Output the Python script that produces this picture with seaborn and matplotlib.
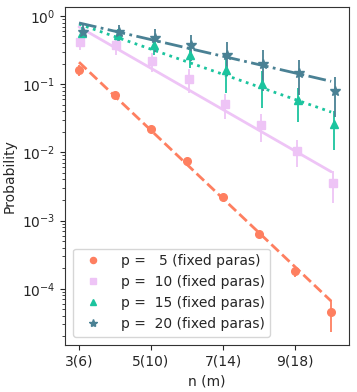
import numpy as np
import pandas as pd
import matplotlib
matplotlib.use('Agg')
import matplotlib.pyplot as plt
from matplotlib.lines import Line2D
import seaborn as sns

# data
n_vals = [3, 4, 5, 6, 7, 8, 9, 10]
p_vals = [5, 10, 15, 20]

prob_p5 = [0.16, 0.069, 0.022, 0.0074, 0.0022, 6.3e-4, 1.8e-4, 4.6e-5]
err_p5 = [0.03, 0.006, 0.002, 0.0006, 0.0002, 6e-5, 3e-5, 2.3e-5]
prob_p10 = [0.42, 0.37, 0.22, 0.12, 0.051, 0.025, 0.0105, 0.0036]
err_p10 = [0.1, 0.1, 0.07, 0.045, 0.02, 0.011, 0.0045, 0.0018]
prob_p15 = [0.56, 0.52, 0.37, 0.27, 0.16, 0.10, 0.058, 0.026]
err_p15 = [0.12, 0.12, 0.1, 0.1, 0.085, 0.055, 0.03, 0.015]
prob_p20 = [0.58, 0.58, 0.47, 0.37, 0.27, 0.20, 0.147, 0.08]
err_p20 = [0.15, 0.15, 0.17, 0.15, 0.14, 0.12, 0.078, 0.047]

# fitted exponential decay: values at n=3 and n=10
fit_p5 = [0.21, 6.6e-5]
fit_p10 = [0.69, 0.0052]
fit_p15 = [0.76, 0.039]
fit_p20 = [0.79, 0.11]

xtick_pos = [3, 5, 7, 9]
xtick_labels = ['3(6)', '5(10)', '7(14)', '9(18)']

colors = ['#fe7f60', '#eec4f6', '#1bc49e', '#4a8194']
markers = ['o', 's', '^', '*']
linestyles = ['--', '-', ':', '-.']
offsets = [0.0, 0.04, 0.07, 0.1]

probs = [prob_p5, prob_p10, prob_p15, prob_p20]
errs = [err_p5, err_p10, err_p15, err_p20]
fits = [fit_p5, fit_p10, fit_p15, fit_p20]

sns.set_style('ticks')
plt.rcParams['font.family'] = ['DejaVu Sans']

fig = plt.figure(figsize=(3.57, 3.92), dpi=100)
ax = fig.add_axes([0.182, 0.12, 0.796, 0.862])

for i, p in enumerate(p_vals):
    # fit line (exponential in n -> straight on log axis)
    a0, a1 = np.log(fits[i][0]), np.log(fits[i][1])
    xs = np.array(n_vals, dtype=float)
    ys = np.exp(a0 + (a1 - a0) * (xs - 3) / 7)
    df = pd.DataFrame({'n': xs, 'prob': ys})
    sns.lineplot(data=df, x='n', y='prob', ax=ax, color=colors[i],
                 linestyle=linestyles[i], linewidth=2, legend=False)

handles = []
for i, p in enumerate(p_vals):
    xs = np.array(n_vals) + offsets[i]
    ms = 7.5 if markers[i] == '*' else 5.5
    ax.errorbar(xs, probs[i], yerr=errs[i], fmt=markers[i], color=colors[i],
                markersize=ms, elinewidth=1.3)
    handles.append(Line2D([], [], marker=markers[i], color=colors[i], linestyle='None',
                          markersize=ms * 0.8, label=f'p = {p:3d} (fixed paras)'))

ax.set_yscale('log')
ax.set_ylim(1.5e-5, 1.35)
ax.set_xlim(2.61, 10.5)
ax.set_xticks(xtick_pos)
ax.set_xticklabels(xtick_labels)
ax.set_xlabel('n (m)', fontsize=10)
ax.set_ylabel('Probability', fontsize=10)
ax.tick_params(labelsize=10)
for s in ax.spines.values():
    s.set_visible(True)
    s.set_color('#333333')

ax.legend(handles=handles, loc='lower left', fontsize=10, handletextpad=1.0,
          borderaxespad=0.6)

fig.savefig('out.png', dpi=100)
